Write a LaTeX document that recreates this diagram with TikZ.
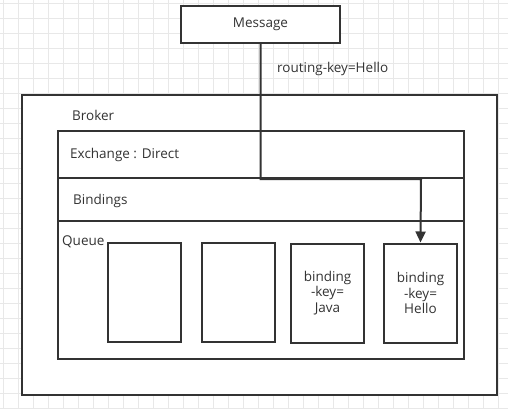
\documentclass[tikz,border=0pt]{standalone}
\usepackage{fontspec}
\setmainfont{Open Sans}
\usetikzlibrary{arrows.meta}
\definecolor{ink}{HTML}{333333}
\definecolor{gridc}{HTML}{E8E8E8}
\tikzset{
  box/.style={draw=ink, line width=2pt, rectangle, inner sep=0pt, fill=white},
  lbl/.style={text=ink, inner sep=0pt, anchor=west, font=\fontsize{13.5}{16}\selectfont},
  qbox/.style={box, minimum width=73pt, minimum height=99pt, align=center, text=ink, font=\fontsize{13.5}{15.7}\selectfont},
  conn/.style={draw=ink, line width=2pt}
}
\begin{document}
\begin{tikzpicture}[x=1pt,y=-1pt]
\useasboundingbox (0,0) rectangle (508,409);
\fill[white] (0,0) rectangle (508,409);
\foreach \i in {0,...,33} {\draw[gridc, line width=0.8pt] (3+15*\i,0) -- (3+15*\i,409);}
\foreach \j in {0,...,27} {\draw[gridc, line width=0.8pt] (0,3+15*\j) -- (508,3+15*\j);}
% outer broker
\node[box, minimum width=475pt, minimum height=300pt] (broker) at (259.5,245) {};
\node[lbl] (brokerlbl) at (72,115) {Broker};
% sections
\node[box, minimum width=406pt, minimum height=47pt] (exch) at (261,154.5) {};
\node[box, minimum width=406pt, minimum height=43pt] (bind) at (261,199.5) {};
\node[box, minimum width=406pt, minimum height=138pt] (queue) at (261,290) {};
\node[lbl] (exlbl) at (70,155) {Exchange : Direct};
\node[lbl] (bindlbl) at (73,201) {Bindings};
\node[lbl] (qlbl) at (62,242) {Queue};
% queue boxes
\node[qbox] (q1) at (144.5,292.5) {};
\node[qbox] (q2) at (238.5,292.5) {};
\node[qbox] (q3) at (327.5,293) {binding\\-key=\\Java};
\node[qbox] (q4) at (420.5,293) {binding\\-key=\\Hello};
% message
\node[box, minimum width=159pt, minimum height=37pt, text=ink, font=\fontsize{13.5}{16}\selectfont] (msg) at (260.5,24.5) {Message};
\node[lbl] (rk) at (277,69) {routing-key=Hello};
\coordinate (bend) at (421,179);
\draw[conn, -{Triangle[length=11pt,width=10pt]}] (msg.south) |- (bend) -- (q4.north);
\end{tikzpicture}
\end{document}
